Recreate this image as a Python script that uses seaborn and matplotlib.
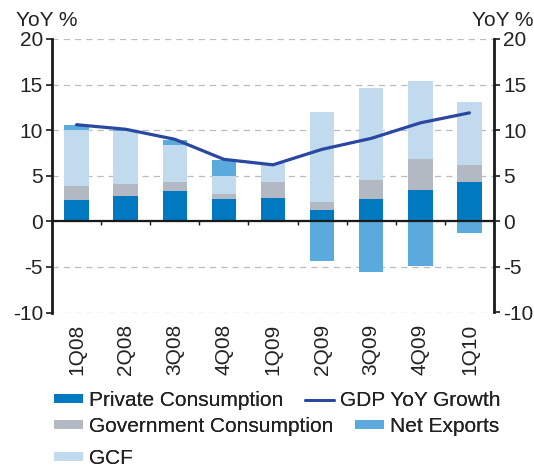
import numpy as np
import pandas as pd
import matplotlib
matplotlib.use("Agg")
import matplotlib.pyplot as plt
import seaborn as sns
from matplotlib.patches import Patch
from matplotlib.lines import Line2D

quarters = ["1Q08", "2Q08", "3Q08", "4Q08", "1Q09", "2Q09", "3Q09", "4Q09", "1Q10"]
private_consumption = [2.3, 2.75, 3.3, 2.45, 2.55, 1.2, 2.45, 3.4, 4.3]
government_consumption = [1.55, 1.35, 1.0, 0.55, 1.75, 0.9, 2.05, 3.4, 1.9]
gcf = [6.2, 5.85, 4.1, 1.95, 2.15, 9.9, 10.15, 8.6, 6.9]
net_exports = [0.55, 0.1, 0.55, 1.75, 0.0, -4.3, -5.6, -4.85, -1.3]
gdp_growth = [10.6, 10.1, 9.0, 6.8, 6.2, 7.9, 9.1, 10.8, 11.9]

c_pc = "#0079C1"
c_gov = "#B2B9C2"
c_gcf = "#C2DAED"
c_net = "#5AAADE"
c_gdp = "#2B48A0"

sns.set_style("white")
plt.rcParams["font.family"] = ["Liberation Sans", "DejaVu Sans"]
FS = 15

df = pd.DataFrame({
    "q": quarters,
    "pc": private_consumption,
    "gov": government_consumption,
    "gcf": gcf,
    "net": net_exports,
    "gdp": gdp_growth,
})
df["b_gov"] = df["pc"]
df["b_gcf"] = df["pc"] + df["gov"]
df["b_net"] = np.where(df["net"] > 0, df["pc"] + df["gov"] + df["gcf"], 0.0)
df["pos"] = np.arange(len(df))

fig = plt.figure(figsize=(5.34, 4.68), dpi=100)
ax = fig.add_axes([52 / 534, 1 - 312.5 / 468, (494 - 52) / 534, (312.5 - 39) / 468])

W = 0.5
sns.barplot(data=df, x="q", y="pc", color=c_pc, width=W, ax=ax, saturation=1, linewidth=0)
sns.barplot(data=df, x="q", y="gov", bottom=df["b_gov"], color=c_gov, width=W, ax=ax, saturation=1, linewidth=0)
sns.barplot(data=df, x="q", y="gcf", bottom=df["b_gcf"], color=c_gcf, width=W, ax=ax, saturation=1, linewidth=0)
sns.barplot(data=df, x="q", y="net", bottom=df["b_net"], color=c_net, width=W, ax=ax, saturation=1, linewidth=0)
sns.lineplot(data=df, x="pos", y="gdp", color=c_gdp, lw=2.3, ax=ax)

ax.set_xlim(-0.5, len(quarters) - 0.5)
ax.set_ylim(-10, 20)
yt = np.arange(-10, 21, 5)
ax.set_yticks(yt)
ax.set_yticklabels([str(v) for v in yt], fontsize=FS, color="#222222")
ax.yaxis.grid(True, linestyle=(0, (5, 4)), color="#B8BCC4", lw=0.9)
ax.set_axisbelow(True)
ax.axhline(0, color="#1a1a1a", lw=1.6, zorder=5)
ax.vlines(np.arange(0.5, len(quarters) - 0.5, 1), -0.45, 0, color="#1a1a1a", lw=1.0, zorder=5)

ax.set_xticks(np.arange(len(quarters)))
ax.set_xticklabels(quarters, rotation=90, fontsize=FS, color="#222222")
ax.tick_params(axis="x", length=0, pad=8)
ax.tick_params(axis="y", direction="out", length=4, width=1.2, left=True, pad=2.5, color="#1a1a1a")
ax.set_xlabel("")
ax.set_ylabel("")
for s in ["top", "bottom", "right"]:
    ax.spines[s].set_visible(False)
ax.spines["left"].set_color("#1a1a1a")
ax.spines["left"].set_linewidth(2.0)
if ax.get_legend():
    ax.get_legend().remove()

ax2 = ax.twinx()
ax2.set_ylim(-10, 20)
ax2.set_yticks(yt)
ax2.set_yticklabels([str(v) for v in yt], fontsize=FS, color="#222222")
ax2.tick_params(axis="y", direction="out", length=4, width=1.2, right=True, pad=2.5, color="#1a1a1a")
for s in ["top", "bottom", "left"]:
    ax2.spines[s].set_visible(False)
ax2.spines["right"].set_color("#1a1a1a")
ax2.spines["right"].set_linewidth(2.0)

fig.text(16 / 534, 1 - 20 / 468, "YoY %", fontsize=FS, color="#222222", va="center", ha="left")
fig.text(533 / 534, 1 - 20 / 468, "YoY %", fontsize=FS, color="#222222", va="center", ha="right")

def ph(c):
    return Patch(facecolor=c, edgecolor="none")

common = dict(frameon=False, fontsize=FS, handlelength=1.4, handleheight=0.3,
              handletextpad=0.3, borderpad=0, borderaxespad=0, loc="upper left",
              columnspacing=1.0)
rows = [
    ([ph(c_pc), Line2D([0], [0], color=c_gdp, lw=2)], ["Private Consumption", "GDP YoY Growth"], 391),
    ([ph(c_gov), ph(c_net)], ["Government Consumption", "Net Exports"], 417),
    ([ph(c_gcf)], ["GCF"], 449),
]
for h, l, ytop in rows:
    leg = fig.legend(h, l, ncol=2, bbox_to_anchor=(54 / 534, 1 - ytop / 468), **common)
    for t in leg.get_texts():
        t.set_color("#222222")
    fig.add_artist(leg)

fig.savefig("out.png", dpi=100)
